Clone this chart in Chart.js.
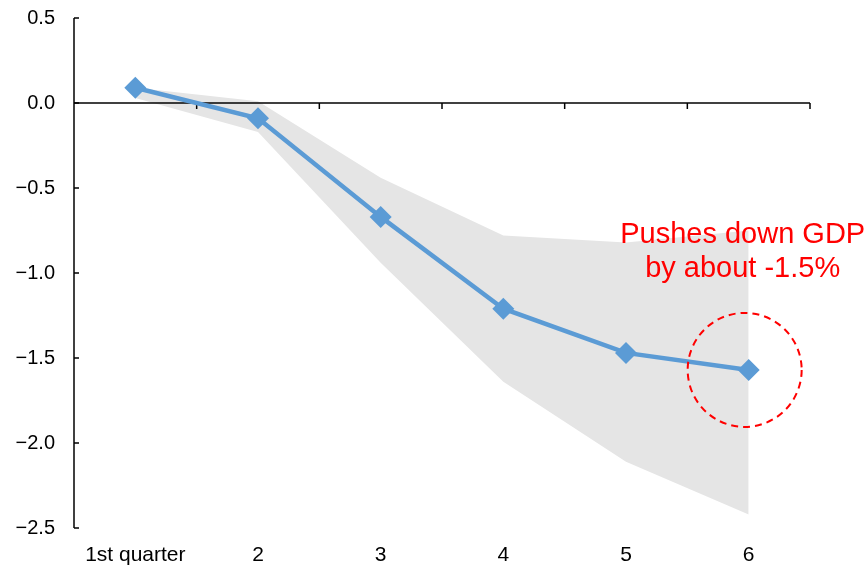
<!DOCTYPE html>
<html>
<head>
<meta charset="utf-8">
<script src="https://cdn.jsdelivr.net/npm/chart.js@4/dist/chart.umd.min.js"></script>
<style>
  html, body { margin: 0; padding: 0; background: #fff; }
  canvas { display: block; }
</style>
</head>
<body>
<canvas id="c" width="867" height="565"></canvas>
<script>
// ---- data ----
const categories = ['1st quarter', '2', '3', '4', '5', '6'];
const gdpEffect  = [0.09, -0.09, -0.67, -1.21, -1.47, -1.57];
const bandUpper  = [0.09, 0.01, -0.44, -0.78, -0.82, -0.75];
const bandLower  = [0.03, -0.17, -0.94, -1.64, -2.11, -2.42];
const yMin = -2.5, yMax = 0.5, yStep = 0.5;
const annotationLines = ['Pushes down GDP', 'by about -1.5%'];

const FONT = "'Liberation Sans', Arial, sans-serif";

const axesPlugin = {
  id: 'axesPlugin',
  beforeDatasetsDraw(chart) {
    const { ctx, chartArea: a, scales: { x, y } } = chart;
    ctx.save();
    ctx.strokeStyle = '#000';
    ctx.lineWidth = 1.5;
    // y axis line
    ctx.beginPath();
    ctx.moveTo(a.left, y.getPixelForValue(yMax));
    ctx.lineTo(a.left, y.getPixelForValue(yMin));
    ctx.stroke();
    // y tick marks pointing inward
    for (let v = yMin; v <= yMax + 1e-9; v += yStep) {
      const py = y.getPixelForValue(v);
      ctx.beginPath();
      ctx.moveTo(a.left, py);
      ctx.lineTo(a.left + 5, py);
      ctx.stroke();
    }
    // x axis line at zero
    const y0 = y.getPixelForValue(0);
    ctx.beginPath();
    ctx.moveTo(a.left, y0);
    ctx.lineTo(a.right, y0);
    ctx.stroke();
    // x tick marks at category boundaries, pointing down
    const half = (x.getPixelForValue(1) - x.getPixelForValue(0)) / 2;
    for (let i = 0; i < categories.length; i++) {
      const px = x.getPixelForValue(i) + half;
      ctx.beginPath();
      ctx.moveTo(px, y0);
      ctx.lineTo(px, y0 + 6);
      ctx.stroke();
    }
    ctx.restore();
  }
};

const annotationPlugin = {
  id: 'annotationPlugin',
  afterDatasetsDraw(chart) {
    const { ctx, scales: { x, y } } = chart;
    const last = categories.length - 1;
    const px = x.getPixelForValue(last);
    const py = y.getPixelForValue(gdpEffect[last]);
    ctx.save();
    // dashed circle
    ctx.strokeStyle = '#ff0000';
    ctx.lineWidth = 2;
    ctx.setLineDash([7, 5]);
    ctx.beginPath();
    ctx.arc(px - 4, py, 57, 0, Math.PI * 2);
    ctx.stroke();
    ctx.setLineDash([]);
    // text
    ctx.fillStyle = '#ff0000';
    ctx.font = '29px ' + FONT;
    ctx.textAlign = 'center';
    ctx.textBaseline = 'alphabetic';
    ctx.fillText(annotationLines[0], px - 6, py - 127);
    ctx.fillText(annotationLines[1], px - 6, py - 93);
    ctx.restore();
  }
};

new Chart(document.getElementById('c'), {
  type: 'line',
  data: {
    labels: categories,
    datasets: [
      {
        label: 'GDP effect',
        data: gdpEffect,
        borderColor: '#5b9bd5',
        backgroundColor: '#5b9bd5',
        borderWidth: 4.5,
        pointStyle: 'rectRot',
        pointRadius: 11,
        pointHoverRadius: 11,
        pointBorderWidth: 0,
        fill: false,
        tension: 0,
        order: 0
      },
      {
        label: 'upper',
        data: bandUpper,
        borderWidth: 0,
        borderColor: 'rgba(0,0,0,0)',
        pointRadius: 0,
        backgroundColor: '#e5e5e5',
        fill: '+1',
        order: 1
      },
      {
        label: 'lower',
        data: bandLower,
        borderWidth: 0,
        borderColor: 'rgba(0,0,0,0)',
        pointRadius: 0,
        fill: false,
        order: 2
      }
    ]
  },
  options: {
    responsive: false,
    animation: false,
    layout: { padding: { left: 0, right: 57, top: 18, bottom: 0 } },
    plugins: {
      legend: { display: false },
      tooltip: { enabled: false },
      filler: { drawTime: 'beforeDatasetsDraw' }
    },
    scales: {
      x: {
        offset: true,
        grid: { display: false, drawTicks: false },
        border: { display: false },
        ticks: {
          color: '#000',
          font: { family: FONT, size: 21 },
          padding: 15,
          maxRotation: 0,
          autoSkip: false
        },
        afterFit(s) { s.height = 37; s.paddingLeft = 0; s.paddingRight = 0; }
      },
      y: {
        min: yMin,
        max: yMax,
        grid: { display: false, drawTicks: false },
        border: { display: false },
        ticks: {
          stepSize: yStep,
          color: '#000',
          font: { family: FONT, size: 20 },
          padding: 19,
          callback: (v) => Number(v).toFixed(1).replace('-', '\u2212')
        },
        afterFit(s) { s.width = 74; s.paddingTop = 0; s.paddingBottom = 0; }
      }
    }
  },
  plugins: [axesPlugin, annotationPlugin]
});
</script>
</body>
</html>
